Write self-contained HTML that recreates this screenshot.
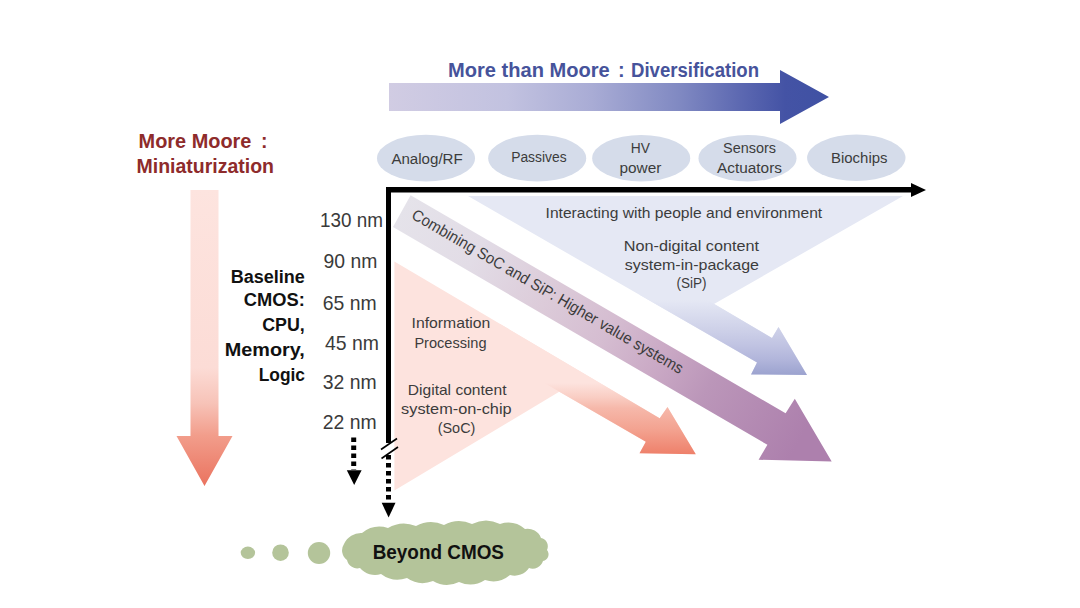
<!DOCTYPE html>
<html><head><meta charset="utf-8">
<style>
html,body{margin:0;padding:0;background:#fff;width:1080px;height:608px;overflow:hidden}
svg{display:block}
text{font-family:"Liberation Sans",sans-serif}
</style></head>
<body>
<svg width="1080" height="608" viewBox="0 0 1080 608">
<defs>
<linearGradient id="gTop" x1="389" y1="0" x2="829" y2="0" gradientUnits="userSpaceOnUse">
<stop offset="0" stop-color="#d1cce3"/>
<stop offset="0.27" stop-color="#c2c2e0"/>
<stop offset="0.46" stop-color="#a9acd5"/>
<stop offset="0.66" stop-color="#8089c2"/>
<stop offset="0.8" stop-color="#5c68b1"/>
<stop offset="0.9" stop-color="#4453a5"/>
<stop offset="1" stop-color="#3f51a3"/>
</linearGradient>
<linearGradient id="gPink" x1="0" y1="190" x2="0" y2="486" gradientUnits="userSpaceOnUse">
<stop offset="0" stop-color="#fde4df"/>
<stop offset="0.6" stop-color="#fcdcd6"/>
<stop offset="0.72" stop-color="#f7c3b8"/>
<stop offset="0.83" stop-color="#f29d8b"/>
<stop offset="1" stop-color="#ea735f"/>
</linearGradient>
<linearGradient id="gSiP" x1="0" y1="300" x2="0" y2="376" gradientUnits="userSpaceOnUse">
<stop offset="0" stop-color="#e5e8f4"/>
<stop offset="0.4" stop-color="#cdd0e8"/>
<stop offset="0.6" stop-color="#c0c3e2"/>
<stop offset="0.8" stop-color="#b0b4da"/>
<stop offset="1" stop-color="#9aa1ce"/>
</linearGradient>
<linearGradient id="gComb" x1="400" y1="210" x2="800" y2="440" gradientUnits="userSpaceOnUse">
<stop offset="0" stop-color="#e5e3ea"/>
<stop offset="0.19" stop-color="#e2dce6"/>
<stop offset="0.37" stop-color="#dccbd9"/>
<stop offset="0.52" stop-color="#d5bdd1"/>
<stop offset="0.65" stop-color="#caa9c5"/>
<stop offset="0.77" stop-color="#bb96b9"/>
<stop offset="1" stop-color="#ad80ad"/>
</linearGradient>
<linearGradient id="gSoC" x1="0" y1="383" x2="0" y2="455" gradientUnits="userSpaceOnUse">
<stop offset="0" stop-color="#fde3de"/>
<stop offset="0.2" stop-color="#f9cdc3"/>
<stop offset="0.35" stop-color="#f6b8aa"/>
<stop offset="0.65" stop-color="#f3a290"/>
<stop offset="1" stop-color="#ee7f69"/>
</linearGradient>
</defs>

<!-- top arrow -->
<polygon points="389,83 780,83 780,70 829,97 780,124 780,111 389,111" fill="url(#gTop)"/>
<g font-size="20" font-weight="bold" fill="#46539b">
<text x="448" y="76.8" textLength="161.7" lengthAdjust="spacingAndGlyphs">More than Moore</text>
<text x="618" y="76.8">:</text>
<text x="631" y="76.8" textLength="128" lengthAdjust="spacingAndGlyphs">Diversification</text>
</g>

<!-- ellipses -->
<g fill="#d5dcea">
<ellipse cx="426" cy="158.2" rx="49" ry="23.4"/>
<ellipse cx="537.2" cy="158.2" rx="49" ry="23.4"/>
<ellipse cx="641.2" cy="158.2" rx="49" ry="23.2"/>
<ellipse cx="747.5" cy="158.2" rx="49" ry="23.2"/>
<ellipse cx="856.3" cy="157.8" rx="49.2" ry="23.2"/>
</g>
<g fill="#3c3c3c" font-size="15.5">
<text x="391.4" y="163.7" textLength="71.3" lengthAdjust="spacingAndGlyphs">Analog/RF</text>
<text x="511.2" y="162" textLength="55.4" lengthAdjust="spacingAndGlyphs">Passives</text>
<text x="630.8" y="153.4" textLength="19.2" lengthAdjust="spacingAndGlyphs">HV</text>
<text x="619.5" y="173" textLength="41.9" lengthAdjust="spacingAndGlyphs">power</text>
<text x="723" y="153.4" textLength="53" lengthAdjust="spacingAndGlyphs">Sensors</text>
<text x="717" y="173" textLength="65" lengthAdjust="spacingAndGlyphs">Actuators</text>
<text x="831" y="162.6" textLength="56.5" lengthAdjust="spacingAndGlyphs">Biochips</text>
</g>

<!-- left red title -->
<g fill="#8e2b2b" font-size="19.5" font-weight="bold">
<text x="138.6" y="148.3" textLength="112.8" lengthAdjust="spacingAndGlyphs">More Moore</text>
<text x="261" y="148.3">:</text>
<text x="136.5" y="172.7" textLength="137.5" lengthAdjust="spacingAndGlyphs">Miniaturization</text>
</g>

<!-- pink down arrow -->
<polygon points="190.5,190 218.5,190 218.5,436 232.5,436 204.5,486 176.5,436 190.5,436" fill="url(#gPink)"/>

<!-- Baseline CMOS -->
<g fill="#111" font-size="18" font-weight="bold">
<text x="230.7" y="282.6" textLength="74.1" lengthAdjust="spacingAndGlyphs">Baseline</text>
<text x="243.8" y="306.1" textLength="61" lengthAdjust="spacingAndGlyphs">CMOS:</text>
<text x="262.2" y="331" textLength="42.6" lengthAdjust="spacingAndGlyphs">CPU,</text>
<text x="224.7" y="356.3" textLength="80.1" lengthAdjust="spacingAndGlyphs">Memory,</text>
<text x="258.7" y="380.5" textLength="46.3" lengthAdjust="spacingAndGlyphs">Logic</text>
</g>

<!-- nm labels -->
<g fill="#3a3a3a" font-size="21">
<text x="319.9" y="227.2" textLength="63" lengthAdjust="spacingAndGlyphs">130 nm</text>
<text x="323.5" y="267.8" textLength="53.8" lengthAdjust="spacingAndGlyphs">90 nm</text>
<text x="322.7" y="310.2" textLength="53.9" lengthAdjust="spacingAndGlyphs">65 nm</text>
<text x="325" y="349.8" textLength="54" lengthAdjust="spacingAndGlyphs">45 nm</text>
<text x="322.7" y="389" textLength="53.9" lengthAdjust="spacingAndGlyphs">32 nm</text>
<text x="322.7" y="428.7" textLength="53.9" lengthAdjust="spacingAndGlyphs">22 nm</text>
</g>

<!-- SiP shape -->
<polygon points="468,196 903,196 714,304 772,338 778.5,327 807,375 751,374.5 757,362.5" fill="#e5e8f4"/>
<polygon points="640,260.3 772,338 778.5,327 807,375 751,374.5 757,362.5 640,295.1" fill="url(#gSiP)"/>
<!-- combining band -->
<polygon points="410.6,195.2 785.6,413.3 794.8,398.7 831.7,461.4 758.6,459.8 767.4,444.8 393,227" fill="url(#gComb)"/>
<!-- SoC shape -->
<polygon points="394.4,261.5 659.7,418.3 667.5,407 695.8,454.2 639.5,453.3 645.8,441.7 559.2,391.7 394.4,490.5" fill="#fde3de"/>
<polygon points="500,323.9 659.7,418.3 667.5,407 695.8,454.2 639.5,453.3 645.8,441.7 500,357.5" fill="url(#gSoC)"/>

<!-- axes -->
<rect x="386" y="187" width="5" height="256" fill="#000"/>
<rect x="386" y="187" width="526" height="5.5" fill="#000"/>
<polygon points="911,183 926,190 911,197" fill="#000"/>
<!-- break marks -->
<g stroke="#000" stroke-width="1.6">
<line x1="381" y1="449.5" x2="397" y2="438.5"/>
<line x1="381.5" y1="458.5" x2="398" y2="447"/>
</g>
<!-- dotted lines -->
<line x1="388.5" y1="455" x2="388.5" y2="503" stroke="#000" stroke-width="5" stroke-dasharray="4.5 3.5"/>
<polygon points="381.7,502.8 395.5,502.8 388.6,517.6" fill="#000"/>
<line x1="353.7" y1="437.6" x2="353.7" y2="470" stroke="#000" stroke-width="5" stroke-dasharray="4.5 3.5"/>
<polygon points="346.8,470.2 361.6,470.2 354.2,485" fill="#000"/>

<!-- info texts -->
<g fill="#3c3c3c" font-size="15">
<text x="545.6" y="217.6" textLength="276.6" lengthAdjust="spacingAndGlyphs">Interacting with people and environment</text>
<text x="623.8" y="250.8" textLength="135.2" lengthAdjust="spacingAndGlyphs">Non-digital content</text>
<text x="624.7" y="270.2" textLength="134.3" lengthAdjust="spacingAndGlyphs">system-in-package</text>
<text x="676.4" y="288.3" textLength="30.1" lengthAdjust="spacingAndGlyphs">(SiP)</text>
<text x="411.5" y="328.3" textLength="78.8" lengthAdjust="spacingAndGlyphs">Information</text>
<text x="414.4" y="347.6" textLength="72.1" lengthAdjust="spacingAndGlyphs">Processing</text>
<text x="407.8" y="394.9" textLength="98.7" lengthAdjust="spacingAndGlyphs">Digital content</text>
<text x="401.1" y="414.2" textLength="110.5" lengthAdjust="spacingAndGlyphs">system-on-chip</text>
<text x="437.7" y="432.6" textLength="37.7" lengthAdjust="spacingAndGlyphs">(SoC)</text>
</g>
<text transform="translate(410.6,217.9) rotate(30.2)" fill="#3c3c3c" font-size="16" textLength="311" lengthAdjust="spacingAndGlyphs">Combining SoC and SiP: Higher value systems</text>

<!-- beyond CMOS cloud -->
<g fill="#b4c49a">
<ellipse cx="247.9" cy="552.8" rx="7.2" ry="6.2"/>
<ellipse cx="280.5" cy="552.7" rx="8.3" ry="8.3"/>
<ellipse cx="319" cy="553" rx="11.2" ry="11"/>
<path d="M344.0,544.0 A18.5,18.5 0 0 1 362.0,533.0 A28.2,28.2 0 0 1 388.0,528.0 A31.5,31.5 0 0 1 416.0,526.0 A31.4,31.4 0 0 1 444.0,525.0 A31.4,31.4 0 0 1 472.0,524.0 A31.3,31.3 0 0 1 500.0,524.0 A26.3,26.3 0 0 1 525.0,529.0 A14.4,14.4 0 0 1 541.0,538.0 A8.5,8.5 0 0 1 547.0,550.0 A6.8,6.8 0 0 1 543.0,561.0 A10.9,10.9 0 0 1 529.0,568.0 A17.2,17.2 0 0 1 510.0,575.0 A26.3,26.3 0 0 1 485.0,580.0 A27.4,27.4 0 0 1 459.0,582.0 A27.3,27.3 0 0 1 433.0,581.0 A27.6,27.6 0 0 1 407.0,578.0 A27.9,27.9 0 0 1 381.0,574.0 A19.7,19.7 0 0 1 360.0,568.0 A10.5,10.5 0 0 1 347.0,560.0 A11.7,11.7 0 0 1 344.0,544.0 Z"/>
</g>
<text x="372.7" y="558.8" fill="#111" font-size="19.5" font-weight="bold" textLength="131.3" lengthAdjust="spacingAndGlyphs">Beyond CMOS</text>
</svg>
</body></html>
